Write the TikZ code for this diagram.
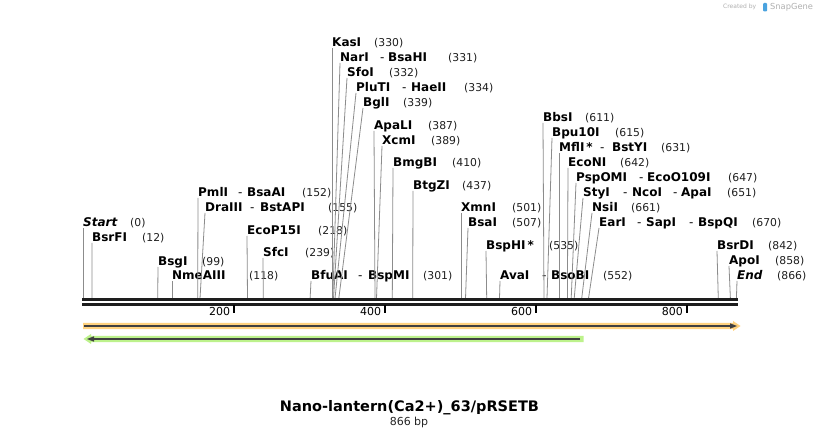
\documentclass[tikz,border=0pt]{standalone}
\usepackage{fontspec}
\setmainfont{DejaVu Sans}
\definecolor{leadgray}{HTML}{8C8C8C}
\definecolor{bbone}{HTML}{1E1E1E}
\definecolor{orfill}{HTML}{FFD27F}
\definecolor{grfill}{HTML}{BDF28C}
\definecolor{featline}{HTML}{404040}
\definecolor{logogray}{HTML}{B0B0B0}
\definecolor{logoblue}{HTML}{4AA3DF}
\tikzset{
  nm/.style={anchor=base west, inner sep=0pt, font=\fontsize{12}{14}\selectfont\bfseries},
  num/.style={anchor=base west, inner sep=0pt, font=\fontsize{10.8}{12}\selectfont, text=black!88},
  sepdash/.style={anchor=base west, inner sep=0pt, font=\fontsize{12}{14}\selectfont},
  lead/.style={draw=leadgray, line width=0.8pt},
  tickmark/.style={draw=black, line width=2pt},
  ticklab/.style={anchor=base east, inner sep=0pt, font=\fontsize{11}{12}\selectfont},
  bbline/.style={draw=bbone, line width=3pt},
}
% #1 id, #2 cut x, #3 label x, #4 label centre y, #5 name, #6 number x, #7 number
\newcommand\lab[7]{%
  \coordinate (#1b) at (#2,298.5);
  \node[nm] (#1) at (#3,#4+4.5) {#5};
  \node[num] (#1n) at (#6,#4+4.5) {#7};
  \draw[lead] (#1b) -- ([yshift=-1.5pt]#1.base west);
}
\newcommand\dsh[3]{\node[sepdash] (#1) at (#2,#3+4.5) {-};}
\newcommand\nmx[4]{\node[nm] (#1) at (#2,#3+4.5) {#4};}
\begin{document}
\begin{tikzpicture}[x=1pt,y=-1pt]
\useasboundingbox (0,0) rectangle (820,438);
\fill[white] (0,0) rectangle (820,438);

% logo
\node[anchor=west, inner sep=0pt, text=logogray, font=\fontsize{6}{7}\selectfont] (created) at (723,7) {Created by};
\fill[logoblue, rounded corners=1pt] (763,3) rectangle (767,11.5);
\node[anchor=west, inner sep=0pt, text=logogray, font=\fontsize{8.3}{9}\selectfont] (snapgene) at (770,7) {SnapGene};

% labels
\lab{st}{83}{83}{222}{\itshape Start}{130}{(0)}
\lab{bsrfi}{92.1}{92}{237}{BsrFI}{142}{(12)}
\lab{bsgi}{157.7}{158}{261}{BsgI}{202}{(99)}
\lab{nme}{172}{172}{275}{NmeAIII}{249}{(118)}
\lab{pml}{197.7}{198}{192}{PmlI}{302}{(152)}
\dsh{pmld}{238}{192}\nmx{bsaai}{247}{192}{BsaAI}
\lab{dra}{200}{205}{207}{DraIII}{328}{(155)}
\dsh{drad}{250}{207}\nmx{bstapi}{260}{207}{BstAPI}
\lab{ecop}{247.5}{247}{230}{EcoP15I}{318}{(218)}
\lab{sfc}{263.3}{263}{252}{SfcI}{305}{(239)}
\lab{bfu}{310.1}{311}{275}{BfuAI}{423}{(301)}
\dsh{bfud}{358}{275}\nmx{bspmi}{368}{275}{BspMI}
\lab{kas}{332}{332}{42}{KasI}{374}{(330)}
\lab{nar}{332.8}{340}{57}{NarI}{448}{(331)}
\dsh{nard}{380}{57}\nmx{bsahi}{388}{57}{BsaHI}
\lab{sfo}{333.5}{347}{72}{SfoI}{389}{(332)}
\lab{plu}{335}{356}{87}{PluTI}{464}{(334)}
\dsh{plud}{402}{87}\nmx{haeii}{411}{87}{HaeII}
\lab{bgl}{338.8}{363}{102}{BglI}{403}{(339)}
\lab{apal}{375}{374}{125}{ApaLI}{428}{(387)}
\lab{xcm}{376.5}{382}{140}{XcmI}{431}{(389)}
\lab{bmg}{392.3}{393}{162}{BmgBI}{452}{(410)}
\lab{btg}{412.7}{413}{185}{BtgZI}{462}{(437)}
\lab{xmn}{461}{461}{207}{XmnI}{512}{(501)}
\lab{bsai}{465.5}{468}{222}{BsaI}{512}{(507)}
\lab{bsph}{486.7}{486}{245}{BspHI\,*}{549}{(535)}
\lab{ava}{499.5}{500}{275}{AvaI}{603}{(552)}
\dsh{avad}{542}{275}\nmx{bsobi}{551}{275}{BsoBI}
\lab{bbs}{544}{543}{117}{BbsI}{585}{(611)}
\lab{bpu}{547}{552}{132}{Bpu10I}{615}{(615)}
\lab{mfl}{559}{559}{147}{MflI\,*}{661}{(631)}
\dsh{mfld}{600}{147}\nmx{bstyi}{612}{147}{BstYI}
\lab{econi}{567.4}{568}{162}{EcoNI}{620}{(642)}
\lab{psp}{571.2}{576}{177}{PspOMI}{728}{(647)}
\dsh{pspd}{639}{177}\nmx{ecoo}{647}{177}{EcoO109I}
\lab{sty}{574.2}{583}{192}{StyI}{727}{(651)}
\dsh{styd}{623}{192}\nmx{ncoi}{632}{192}{NcoI}
\dsh{styd2}{673}{192}\nmx{apai}{681}{192}{ApaI}
\lab{nsi}{581.7}{592}{207}{NsiI}{631}{(661)}
\lab{ear}{588.5}{599}{222}{EarI}{752}{(670)}
\dsh{eard}{637}{222}\nmx{sapi}{646}{222}{SapI}
\dsh{eard2}{689}{222}\nmx{bspqi}{698}{222}{BspQI}
\lab{bsrdi}{718.3}{717}{245}{BsrDI}{768}{(842)}
\lab{apo}{730.4}{729}{260}{ApoI}{775}{(858)}
\lab{endl}{736.4}{737}{275}{\itshape End}{777}{(866)}

% backbone
\coordinate (bbl1) at (82,300); \coordinate (bbr1) at (738,300);
\coordinate (bbl2) at (82,305); \coordinate (bbr2) at (738,305);
\draw[bbline] (bbl1) -- (bbr1);
\draw[bbline] (bbl2) -- (bbr2);

% ticks
\foreach \v/\xx in {200/233.9,400/384.8,600/535.7,800/686.6}{
  \draw[tickmark] (\xx,305) -- (\xx,313);
  \node[ticklab] (t\v) at (\xx-3.5,316) {\v};
}

% orange feature (forward)
\fill[orfill] (83,322.8) -- (733,322.8) -- (733,321) -- (740.5,326) -- (733,331) -- (733,329.2) -- (83,329.2) -- cycle;
\coordinate (ofs) at (84,326); \coordinate (ofe) at (731,326);
\draw[featline, line width=1.8pt] (ofs) -- (ofe);
\fill[featline] (730,323.3) -- (737,326) -- (730,328.7) -- cycle;

% green feature (reverse)
\fill[grfill] (583.5,335.8) -- (91,335.8) -- (91,334) -- (83.5,339) -- (91,344) -- (91,342.2) -- (583.5,342.2) -- cycle;
\coordinate (gfs) at (580,339); \coordinate (gfe) at (93,339);
\draw[featline, line width=1.8pt] (gfs) -- (gfe);
\fill[featline] (94,336.3) -- (87,339) -- (94,341.7) -- cycle;

% title
\node[inner sep=0pt, font=\fontsize{14.5}{16}\selectfont\bfseries] (title) at (409.5,408) {Nano-lantern(Ca2+)\_63/pRSETB};
\node[inner sep=0pt, font=\fontsize{11}{12}\selectfont, text=black!85] (bp) at (409,422) {866 bp};
\end{tikzpicture}
\end{document}
